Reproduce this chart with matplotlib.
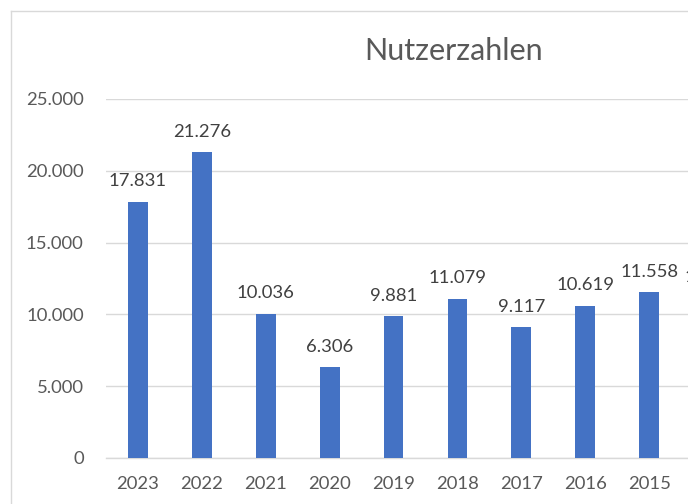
import matplotlib
matplotlib.use("Agg")
import matplotlib.pyplot as plt
from matplotlib.lines import Line2D

years = ["2023", "2022", "2021", "2020", "2019", "2018", "2017", "2016", "2015", "2014"]
users = [17831, 21276, 10036, 6306, 9881, 11079, 9117, 10619, 11558, 11200]
yticks = [0, 5000, 10000, 15000, 20000, 25000]

plt.rcParams['font.family'] = ['Lato', 'DejaVu Sans']

W, H = 688, 504
fig = plt.figure(figsize=(W / 100, H / 100), dpi=100)

left_px, right_px = 106, 106 + 63.9 * len(years)
top_px, bottom_px = 99, 458
ax = fig.add_axes([left_px / W, 1 - bottom_px / H, (right_px - left_px) / W, (bottom_px - top_px) / H])

x = list(range(len(years)))
bars = ax.bar(x, users, width=0.31, color="#4472C4", zorder=3)
labels = [f"{v:,}".replace(",", ".") for v in users]
ax.bar_label(bars, labels=labels, padding=9, fontsize=13.3, color="#404040")

ax.set_xlim(-0.5, len(years) - 0.5)
ax.set_ylim(0, 25000)
ax.set_yticks(yticks)
ax.set_yticklabels([f"{v:,}".replace(",", ".") for v in yticks])
ax.set_xticks(x)
ax.set_xticklabels(years)
ax.tick_params(axis="both", length=0, labelsize=13.3, labelcolor="#595959")
ax.tick_params(axis="y", pad=16)
ax.tick_params(axis="x", pad=13)
ax.grid(axis="y", color="#D9D9D9", linewidth=1.0, zorder=0)
for s in ["left", "right", "top"]:
    ax.spines[s].set_visible(False)
ax.spines["bottom"].set_color("#D9D9D9")
ax.spines["bottom"].set_linewidth(1.0)

fig.text(453.5 / W, 1 - 60 / H, "Nutzerzahlen", ha="center", va="baseline", fontsize=22, color="#595959")

# chart border
fig.add_artist(Line2D([11 / W, 11 / W], [0, 1 - 11 / H], color="#D9D9D9", linewidth=1.0, transform=fig.transFigure))
fig.add_artist(Line2D([11 / W, 1], [1 - 11 / H, 1 - 11 / H], color="#D9D9D9", linewidth=1.0, transform=fig.transFigure))

fig.savefig("out.png", dpi=100, facecolor="white")
